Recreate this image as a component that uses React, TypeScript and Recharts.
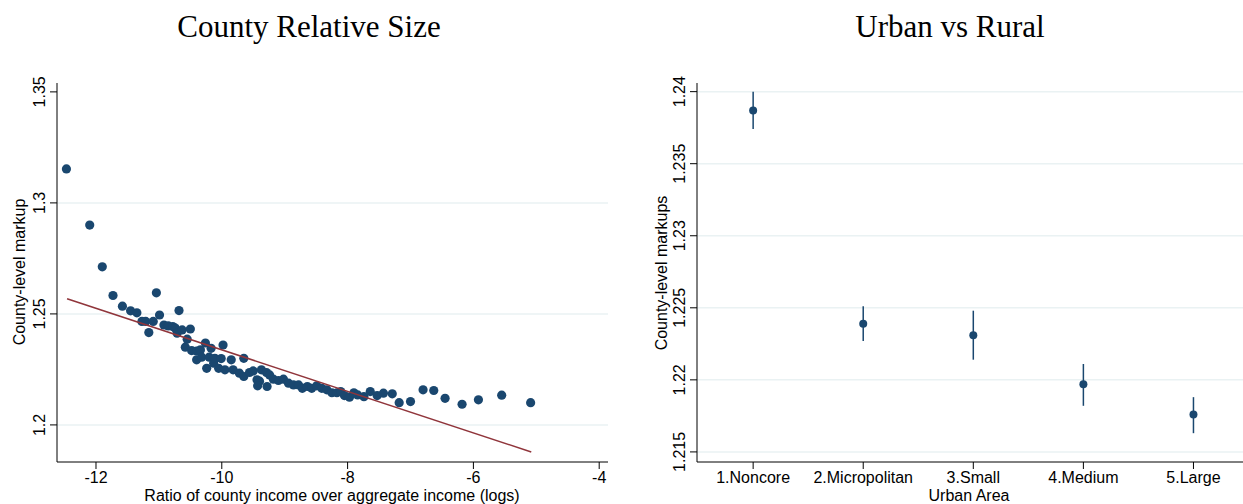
import { ScatterChart, Scatter, XAxis, YAxis, CartesianGrid, ErrorBar } from 'recharts'

// County relative size: log income ratio vs county-level markup
const countyIncome = [
    -12.47, -12.10, -11.90, -11.73, -11.58, -11.45, -11.35, -11.27, -11.21, -11.16,
    -11.09, -11.04, -10.99, -10.92, -10.85, -10.78, -10.74, -10.71, -10.68, -10.63,
    -10.55, -10.50, -10.58, -10.48, -10.40, -10.34, -10.40, -10.32, -10.26, -10.24,
    -10.20, -10.17, -10.13, -10.11, -10.05, -10.01, -9.98, -9.95, -9.85, -9.82,
    -9.72, -9.65, -9.65, -9.56, -9.50, -9.44, -9.40, -9.43, -9.37, -9.29,
    -9.24, -9.28, -9.18, -9.10, -9.02, -8.94, -8.86, -8.78, -8.72, -8.64,
    -8.57, -8.49, -8.41, -8.33, -8.25, -8.17, -8.11, -8.05, -7.97, -7.90,
    -7.84, -7.74, -7.64, -7.53, -7.43, -7.29, -7.18, -7.00, -6.80, -6.63,
    -6.45, -6.18, -5.92, -5.55, -5.09,
]
const countyMarkup = [
    1.3153, 1.2900, 1.2712, 1.2583, 1.2535, 1.2514, 1.2505, 1.2466, 1.2466, 1.2416,
    1.2466, 1.2595, 1.2495, 1.2450, 1.2446, 1.2443, 1.2436, 1.2413, 1.2515, 1.2428,
    1.2386, 1.2432, 1.2350, 1.2335, 1.2333, 1.2338, 1.2293, 1.2305, 1.2369, 1.2255,
    1.2305, 1.2345, 1.2278, 1.2300, 1.2255, 1.2299, 1.2360, 1.2248, 1.2293, 1.2248,
    1.2233, 1.2300, 1.2218, 1.2236, 1.2243, 1.2203, 1.2197, 1.2176, 1.2248, 1.2236,
    1.2225, 1.2173, 1.2206, 1.2200, 1.2206, 1.2188, 1.2180, 1.2180, 1.2165, 1.2173,
    1.2165, 1.2176, 1.2165, 1.2158, 1.2145, 1.2145, 1.2150, 1.2132, 1.2125, 1.2145,
    1.2135, 1.2127, 1.2150, 1.2132, 1.2143, 1.2140, 1.2100, 1.2105, 1.2158, 1.2155,
    1.2120, 1.2093, 1.2113, 1.2134, 1.2100,
]
// linear fit, endpoints
const fitIncome = [-12.46, -5.08]
const fitMarkup = [1.2568, 1.1878]

const countyXTicks = [-12, -10, -8, -6, -4]
const countyYTicks = [1.2, 1.25, 1.3, 1.35]
const countyGrid = [1.2, 1.25, 1.3]

// Urban vs rural: point estimates and confidence intervals
const urbanCategories = ['1.Noncore', '2.Micropolitan', '3.Small', '4.Medium', '5.Large']
const urbanMarkup = [1.2387, 1.2239, 1.2231, 1.2197, 1.2176]
const urbanLow = [1.2374, 1.2227, 1.2214, 1.2182, 1.2163]
const urbanHigh = [1.2400, 1.2251, 1.2248, 1.2211, 1.2188]
const urbanYTicks = [1.215, 1.22, 1.225, 1.23, 1.235, 1.24]

const NAVY = '#1a476f'
const MAROON = '#90353b'
const GRID = '#eaf2f3'
const SANS = '"Liberation Sans", Arial, Helvetica, sans-serif'
const SERIF = '"Liberation Serif", "Times New Roman", serif'

const countyData = countyIncome.map((x, i) => ({ x, y: countyMarkup[i] }))
const fitData = fitIncome.map((x, i) => ({ x, y: fitMarkup[i] }))
const urbanData = urbanMarkup.map((y, i) => ({
    x: i + 1,
    y,
    err: [y - urbanLow[i], urbanHigh[i] - y],
}))

const RotatedTick = (props: any) => {
    const { x, y, payload } = props
    return (
        <text
            x={x}
            y={y}
            transform={`rotate(-90, ${x}, ${y})`}
            textAnchor="middle"
            fontSize={16}
            fontFamily={SANS}
            fill="#000"
        >
            {String(payload.value)}
        </text>
    )
}

const Dot = (r: number) => (p: any) => <circle cx={p.cx} cy={p.cy} r={r} fill={NAVY} />

const tickStyle = { fontSize: 16, fontFamily: SANS, fill: '#000' }
const axisLine = { stroke: '#000', strokeWidth: 1 }

function Text({ x, y, text, size, font, rotate }: any) {
    return (
        <div
            style={{
                position: 'absolute',
                left: x,
                top: y,
                transform: `translate(-50%, -50%)${rotate ? ' rotate(-90deg)' : ''}`,
                whiteSpace: 'nowrap',
                fontSize: size,
                fontFamily: font,
                color: '#000',
                lineHeight: 1,
            }}
        >
            {text}
        </div>
    )
}

export default function App() {
    return (
        <div style={{ position: 'absolute', left: 0, top: 0, width: 1243, height: 504, background: '#fff' }}>
            <div style={{ position: 'absolute', left: 0, top: 0 }}>
                <ScatterChart width={620} height={504} margin={{ top: 83, right: 12, bottom: 0, left: 0 }}>
                    <CartesianGrid vertical={false} stroke={GRID} strokeWidth={1.5} horizontalValues={countyGrid} />
                    <XAxis
                        type="number"
                        dataKey="x"
                        domain={[-12.62, -3.86]}
                        ticks={countyXTicks}
                        height={42}
                        tickSize={7}
                        tickMargin={3}
                        tick={tickStyle}
                        axisLine={axisLine}
                        tickLine={axisLine}
                    />
                    <YAxis
                        type="number"
                        dataKey="y"
                        domain={[1.1833, 1.354]}
                        ticks={countyYTicks}
                        width={57}
                        tickSize={7}
                        tickMargin={5}
                        tick={<RotatedTick />}
                        axisLine={axisLine}
                        tickLine={axisLine}
                    />
                    <Scatter data={countyData} fill={NAVY} shape={Dot(4.6)} isAnimationActive={false} />
                    <Scatter
                        data={fitData}
                        line={{ stroke: MAROON, strokeWidth: 1.5 }}
                        shape={() => <g />}
                        isAnimationActive={false}
                    />
                </ScatterChart>
            </div>
            <div style={{ position: 'absolute', left: 620, top: 0 }}>
                <ScatterChart width={623} height={504} margin={{ top: 83, right: 0, bottom: 0, left: 0 }}>
                    <CartesianGrid vertical={false} stroke={GRID} strokeWidth={1.5} horizontalValues={urbanYTicks} />
                    <XAxis
                        type="number"
                        dataKey="x"
                        domain={[0.49, 5.45]}
                        ticks={[1, 2, 3, 4, 5]}
                        tickFormatter={(v: number) => urbanCategories[v - 1]}
                        height={42}
                        tickSize={7}
                        tickMargin={3}
                        tick={tickStyle}
                        axisLine={axisLine}
                        tickLine={axisLine}
                        interval={0}
                    />
                    <YAxis
                        type="number"
                        dataKey="y"
                        domain={[1.2143, 1.2406]}
                        ticks={urbanYTicks}
                        width={77}
                        tickSize={7}
                        tickMargin={5}
                        tick={<RotatedTick />}
                        axisLine={axisLine}
                        tickLine={axisLine}
                    />
                    <Scatter data={urbanData} fill={NAVY} shape={Dot(4)} isAnimationActive={false}>
                        <ErrorBar dataKey="err" direction="y" width={0} stroke={NAVY} strokeWidth={1.5} />
                    </Scatter>
                </ScatterChart>
            </div>
            <Text x={309} y={26} text="County Relative Size" size={31} font={SERIF} />
            <Text x={950} y={26} text="Urban vs Rural" size={31} font={SERIF} />
            <Text x={20} y={272} text="County-level markup" size={16} font={SANS} rotate />
            <Text x={662} y={273} text="County-level markups" size={16} font={SANS} rotate />
            <Text x={332} y={496} text="Ratio of county income over aggregate income (logs)" size={16} font={SANS} />
            <Text x={969} y={496} text="Urban Area" size={16} font={SANS} />
        </div>
    )
}
